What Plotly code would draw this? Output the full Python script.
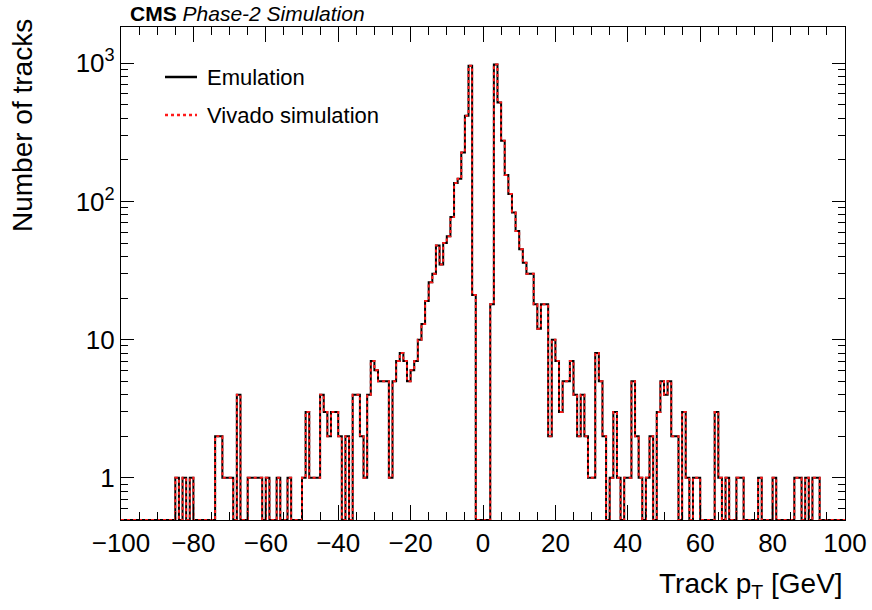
import numpy as np
import plotly.graph_objects as go

# ---------------- data ----------------
bin_low = -100.0
bin_high = 100.0
bin_width = 1.0

# counts per 1 GeV bin, from -100 to 100 (rows of 10 bins)
emulation_counts = [
    0, 0, 0, 0, 0, 0, 0, 0, 0, 0,          # -100 .. -91
    0, 0, 0, 0, 0, 1, 0, 1, 0, 1,          # -90 .. -81
    0, 0, 0, 0, 0, 0, 2, 2, 1, 1,          # -80 .. -71
    1, 0, 4, 0, 0, 1, 1, 1, 1, 0,          # -70 .. -61
    1, 0, 0, 1, 0, 0, 1, 0, 0, 0,          # -60 .. -51
    1, 3, 1, 1, 1, 4, 3, 2, 3, 3,          # -50 .. -41
    2, 0, 2, 0, 4, 4, 2, 1, 4, 7,          # -40 .. -31
    6, 5, 5, 5, 1, 5, 7, 8, 7, 5,          # -30 .. -21
    6, 7, 10, 13, 19, 26, 30, 48, 35, 50,  # -20 .. -11
    56, 77, 136, 146, 226, 417, 960, 21, 0, 0,   # -10 .. -1
    0, 0, 18, 980, 520, 275, 155, 113, 83, 61,   # 0 .. 9
    45, 36, 30, 30, 18, 12, 18, 18, 2, 10, # 10 .. 19
    7, 3, 5, 5, 7, 4, 2, 4, 2, 1,          # 20 .. 29
    1, 8, 5, 2, 0, 1, 3, 1, 0, 1,          # 30 .. 39
    1, 5, 2, 1, 0, 1, 2, 0, 3, 5,          # 40 .. 49
    4, 5, 2, 2, 0, 3, 1, 0, 1, 1,          # 50 .. 59
    0, 0, 0, 0, 3, 1, 0, 1, 0, 0,          # 60 .. 69
    1, 1, 0, 0, 0, 0, 1, 0, 0, 0,          # 70 .. 79
    1, 0, 0, 0, 0, 0, 1, 1, 0, 1,          # 80 .. 89
    0, 1, 1, 0, 0, 0, 0, 0, 0, 0,          # 90 .. 99
]
# Vivado simulation agrees bin by bin with the emulation in the picture
vivado_counts = list(emulation_counts)

x_tick_vals = [-100, -80, -60, -40, -20, 0, 20, 40, 60, 80, 100]
y_tick_vals = [1, 10, 100, 1000]
y_tick_text = ["1", "10", "10<sup>2</sup>", "10<sup>3</sup>"]

series_names = ["Emulation", "Vivado simulation"]

# ---------------- figure ----------------
y_log_range = [-0.305, 3.262]
y_floor = 10 ** y_log_range[0]

edges = np.arange(bin_low, bin_high + bin_width / 2, bin_width)


def step_xy(counts):
    vals = [c if c > 0 else y_floor for c in counts]
    return list(edges), vals + [vals[-1]]


FONT = "Liberation Sans, Arial, Helvetica, sans-serif"

fig = go.Figure()
xe, ye = step_xy(emulation_counts)
fig.add_trace(go.Scatter(x=xe, y=ye, mode="lines", line_shape="hv",
                         name=series_names[0], showlegend=False,
                         line=dict(color="black", width=2)))
xv, yv = step_xy(vivado_counts)
fig.add_trace(go.Scatter(x=xv, y=yv, mode="lines", line_shape="hv",
                         name=series_names[1], showlegend=False,
                         line=dict(color="#ff1a1a", width=2, dash="3px,3px")))

minor_y = [m * 10.0 ** e for e in range(-1, 4) for m in range(2, 10)
           if y_log_range[0] <= np.log10(m * 10.0 ** e) <= y_log_range[1]]

fig.update_xaxes(range=[bin_low, bin_high], showgrid=False, zeroline=False,
                 automargin=False,
                 showline=True, linecolor="black", linewidth=1.2, mirror="allticks",
                 ticks="inside", ticklen=15, tickwidth=1.2, tickcolor="black",
                 tickvals=x_tick_vals,
                 tickfont=dict(family=FONT, size=26, color="black"),
                 minor=dict(ticks="inside", ticklen=7.5, tickwidth=1.2, tickcolor="black",
                            dtick=5, showgrid=False))
fig.update_yaxes(type="log", range=y_log_range, showgrid=False, zeroline=False,
                 automargin=False,
                 showline=True, linecolor="black", linewidth=1.2, mirror="allticks",
                 ticks="inside", ticklen=13, tickwidth=1.2, tickcolor="black",
                 tickvals=y_tick_vals, ticktext=y_tick_text,
                 tickfont=dict(family=FONT, size=26, color="black"),
                 minor=dict(ticks="inside", ticklen=7, tickwidth=1.2, tickcolor="black",
                            tickvals=minor_y, showgrid=False))

# plot area on screen: x 121..845, y 27..520 (page body margin removed below)
SX0, SX1, SY0, SY1 = 121, 845, 27, 520
W, H = 872, 610
L = SX0
T = SY0
R = W - SX1
B = H - SY1
pw, ph = SX1 - SX0, SY1 - SY0


def px_x(px):
    return (px - SX0) / pw


def px_y(py):
    return (SY1 - py) / ph


# manual legend
fig.add_shape(type="line", xref="paper", yref="paper",
              x0=px_x(165), x1=px_x(197), y0=px_y(77), y1=px_y(77),
              line=dict(color="black", width=2.5))
fig.add_shape(type="line", xref="paper", yref="paper",
              x0=px_x(165), x1=px_x(197), y0=px_y(115), y1=px_y(115),
              line=dict(color="#ff1a1a", width=2.5, dash="3px,3px"))
for name, py in zip(series_names, [77, 115]):
    fig.add_annotation(text=name, xref="paper", yref="paper", x=px_x(205), y=px_y(py),
                       xanchor="left", yanchor="middle", showarrow=False,
                       font=dict(family=FONT, size=22, color="black"))

# CMS label
fig.add_annotation(text="<b>CMS</b> <i>Phase-2 Simulation</i>", xref="paper", yref="paper",
                   x=px_x(128), y=px_y(13.5), xanchor="left", yanchor="middle",
                   showarrow=False, font=dict(family=FONT, size=21, color="black"))

# axis titles
fig.add_annotation(text="Track p<sub>T</sub> [GeV]", xref="paper", yref="paper",
                   x=px_x(845), y=px_y(585), xanchor="right", yanchor="middle",
                   showarrow=False, font=dict(family=FONT, size=28, color="black"))
fig.add_annotation(text="Number of tracks", xref="paper", yref="paper",
                   x=px_x(22), y=px_y(125), xanchor="center", yanchor="middle",
                   textangle=-90, showarrow=False,
                   font=dict(family=FONT, size=28, color="black"))

fig.update_layout(width=W, height=H, autosize=False, margin=dict(l=L, r=R, t=T, b=B),
                  paper_bgcolor="white", plot_bgcolor="white", showlegend=False,
                  font=dict(family=FONT, color="black"))

fig.write_html("out.html",
               config={"displayModeBar": False, "responsive": False},
               post_script="document.body.style.margin='0';document.body.style.padding='0';"
                           "document.body.style.overflow='hidden';")
